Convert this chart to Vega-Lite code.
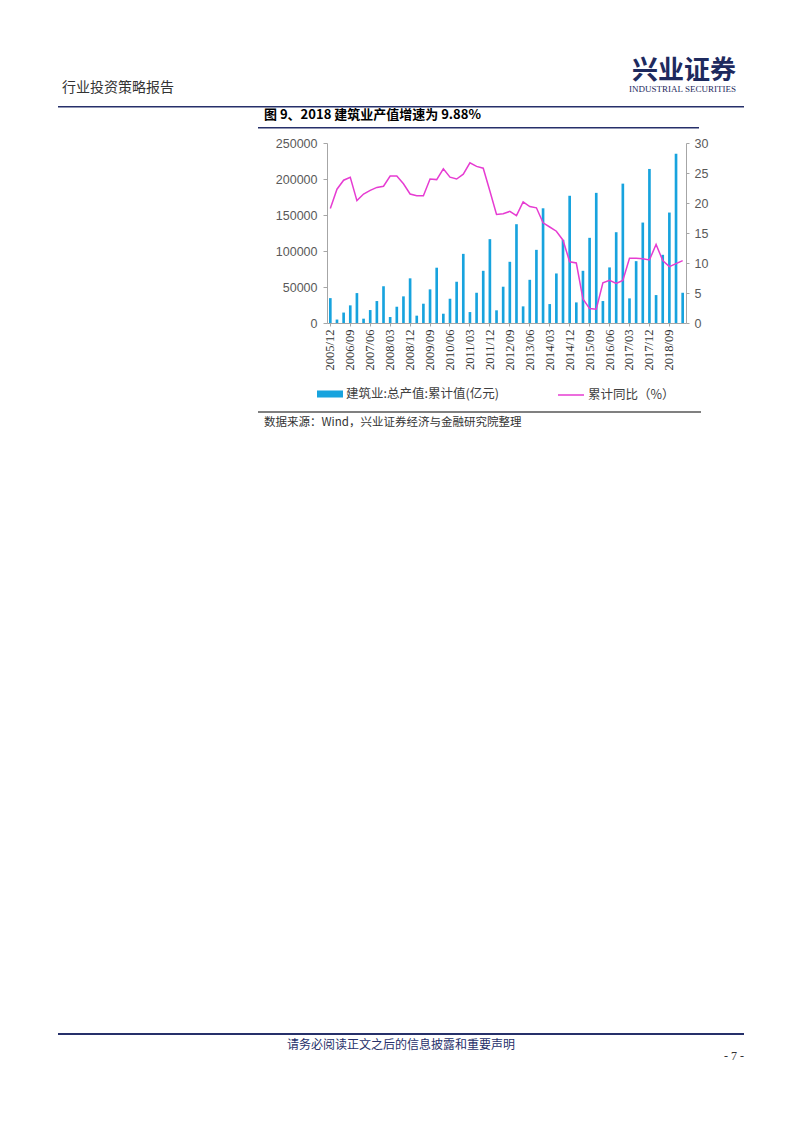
{
  "$schema": "https://vega.github.io/schema/vega-lite/v6.json",
  "background": "white",
  "padding": 0,
  "autosize": {"type": "pad"},
  "config": {
    "view": {"stroke": null},
    "concat": {"spacing": 0},
    "font": "Noto Sans CJK SC"
  },
  "datasets": {
    "q": [
      {"d":"2005/12","v":34552,"g":19.1},
      {"d":"2006/03","v":4800,"g":22.3},
      {"d":"2006/06","v":14500,"g":23.8},
      {"d":"2006/09","v":24500,"g":24.3},
      {"d":"2006/12","v":41557,"g":20.4},
      {"d":"2007/03","v":6000,"g":21.5},
      {"d":"2007/06","v":18000,"g":22.1},
      {"d":"2007/09","v":30500,"g":22.6},
      {"d":"2007/12","v":51044,"g":22.8},
      {"d":"2008/03","v":8300,"g":24.5},
      {"d":"2008/06","v":22600,"g":24.5},
      {"d":"2008/09","v":37000,"g":23.2},
      {"d":"2008/12","v":62036,"g":21.5},
      {"d":"2009/03","v":10200,"g":21.2},
      {"d":"2009/06","v":26800,"g":21.2},
      {"d":"2009/09","v":46700,"g":24.0},
      {"d":"2009/12","v":76808,"g":23.9},
      {"d":"2010/03","v":12900,"g":25.7},
      {"d":"2010/06","v":33700,"g":24.3},
      {"d":"2010/09","v":57300,"g":24.0},
      {"d":"2010/12","v":96031,"g":24.8},
      {"d":"2011/03","v":15200,"g":26.7},
      {"d":"2011/06","v":42000,"g":26.1},
      {"d":"2011/09","v":72500,"g":25.8},
      {"d":"2011/12","v":116463,"g":22.0},
      {"d":"2012/03","v":17600,"g":18.1},
      {"d":"2012/06","v":50400,"g":18.2},
      {"d":"2012/09","v":85000,"g":18.6},
      {"d":"2012/12","v":137218,"g":17.9},
      {"d":"2013/03","v":23100,"g":20.2},
      {"d":"2013/06","v":60000,"g":19.4},
      {"d":"2013/09","v":101600,"g":19.2},
      {"d":"2013/12","v":159313,"g":16.7},
      {"d":"2014/03","v":26300,"g":16.0},
      {"d":"2014/06","v":68800,"g":15.3},
      {"d":"2014/09","v":115500,"g":13.8},
      {"d":"2014/12","v":176713,"g":10.2},
      {"d":"2015/03","v":28600,"g":10.0},
      {"d":"2015/06","v":72500,"g":4.0},
      {"d":"2015/09","v":118300,"g":2.4},
      {"d":"2015/12","v":180757,"g":2.3},
      {"d":"2016/03","v":30500,"g":6.7},
      {"d":"2016/06","v":77200,"g":7.1},
      {"d":"2016/09","v":126100,"g":6.6},
      {"d":"2016/12","v":193567,"g":7.1},
      {"d":"2017/03","v":34200,"g":10.8},
      {"d":"2017/06","v":85900,"g":10.8},
      {"d":"2017/09","v":139500,"g":10.7},
      {"d":"2017/12","v":213954,"g":10.5},
      {"d":"2018/03","v":38800,"g":13.1},
      {"d":"2018/06","v":94700,"g":10.4},
      {"d":"2018/09","v":153400,"g":9.4},
      {"d":"2018/12","v":235086,"g":9.9},
      {"d":"2019/03","v":42000,"g":10.4}
    ],
    "none": []
  },
  "bounds": "flush",
  "spacing": 0,
  "resolve": {"scale": {"fill": "independent", "stroke": "independent"}},
  "vconcat": [
    {"data": {"name": "none"}, "mark": "point", "width": 58, "height": 106},
    {
      "hconcat": [
        {"data": {"name": "none"}, "mark": "point", "width": 58, "height": 1.5},
        {"data": {"name": "none"}, "mark": "point", "width": 520, "height": 1.5,
         "view": {"fill": "#26306a", "stroke": null},
         "title": {"text": "行业投资策略报告", "anchor": "start", "orient": "top", "offset": 11, "dx": 4,
                   "font": "Noto Sans CJK SC", "fontSize": 14, "fontWeight": "normal", "color": "#333333"}},
        {"data": {"name": "none"}, "mark": "point", "width": 166, "height": 1.5,
         "view": {"fill": "#26306a", "stroke": null},
         "title": {"text": "兴业证券", "subtitle": "INDUSTRIAL SECURITIES", "anchor": "end", "orient": "top", "offset": 12, "dx": -8,
                   "font": "Noto Sans CJK SC", "fontSize": 26, "fontWeight": "bold", "color": "#1e2a5e",
                   "subtitleFont": "Liberation Serif", "subtitleFontSize": 9, "subtitleColor": "#1e2a5e", "subtitlePadding": 1}}
      ],
      "bounds": "flush", "spacing": 0
    },
    {"data": {"name": "none"}, "mark": "point", "width": 58, "height": 21},
    {
      "hconcat": [
        {"data": {"name": "none"}, "mark": "point", "width": 58, "height": 1.5},
        {"data": {"name": "none"}, "mark": "point", "width": 200, "height": 1.5},
        {"data": {"name": "none"}, "mark": "point", "width": 441, "height": 1.5,
         "view": {"fill": "#26306a", "stroke": null},
         "title": {"text": "图 9、2018 建筑业产值增速为 9.88%", "anchor": "start", "orient": "top", "offset": 5, "dx": 6,
                   "font": "Noto Sans CJK SC", "fontSize": 13, "fontWeight": "bold", "color": "#000000"}},
        {"data": {"name": "none"}, "mark": "point", "width": 45, "height": 1.5}
      ],
      "bounds": "flush", "spacing": 0
    },
    {"data": {"name": "none"}, "mark": "point", "width": 58, "height": 15.5},
    {
      "hconcat": [
        {"data": {"name": "none"}, "mark": "point", "width": 327, "height": 180},
        {
          "width": 359,
          "height": 180,
          "data": {"name": "q"},
          "encoding": {
            "x": {
              "field": "d", "type": "ordinal", "sort": null,
              "scale": {"paddingInner": 0.6, "paddingOuter": 0.3},
              "axis": {
                "title": null,
                "values": ["2005/12","2006/09","2007/06","2008/03","2008/12","2009/09","2010/06","2011/03","2011/12","2012/09","2013/06","2014/03","2014/12","2015/09","2016/06","2017/03","2017/12","2018/09"],
                "labelAngle": -90, "labelFont": "Liberation Serif", "labelFontSize": 12.5, "labelColor": "#333333",
                "labelPadding": 3, "labelOverlap": false,
                "domainColor": "#a6a6a6", "tickColor": "#a6a6a6", "tickSize": 3
              }
            }
          },
          "layer": [
            {
              "mark": {"type": "bar"},
              "encoding": {
                "y": {
                  "field": "v", "type": "quantitative",
                  "scale": {"domain": [0, 250000], "nice": false},
                  "axis": {
                    "title": null, "values": [0, 50000, 100000, 150000, 200000, 250000], "format": "d",
                    "grid": false, "labelFont": "Liberation Sans", "labelFontSize": 12.5, "labelColor": "#595959",
                    "domainColor": "#a6a6a6", "tickColor": "#a6a6a6", "tickSize": 4, "labelPadding": 6
                  }
                },
                "fill": {
                  "datum": "建筑业:总产值:累计值(亿元)",
                  "scale": {"range": ["#17a3de"]},
                  "legend": {
                    "orient": "none", "legendX": -10, "legendY": 238, "title": null,
                    "symbolType": "M-1,-0.27H1V0.27H-1Z", "symbolSize": 676, "symbolStrokeWidth": 0,
                    "labelFont": "Noto Sans CJK SC", "labelFontSize": 12.5, "labelColor": "#404040", "labelOffset": 3
                  }
                }
              }
            },
            {
              "mark": {"type": "line", "strokeWidth": 1.5},
              "encoding": {
                "y": {
                  "field": "g", "type": "quantitative",
                  "scale": {"domain": [0, 30], "nice": false},
                  "axis": {
                    "orient": "right", "title": null, "values": [0, 5, 10, 15, 20, 25, 30],
                    "grid": false, "labelFont": "Liberation Sans", "labelFontSize": 12.5, "labelColor": "#595959",
                    "domainColor": "#a6a6a6", "tickColor": "#a6a6a6", "tickSize": 3, "labelPadding": 5
                  }
                },
                "stroke": {
                  "datum": "累计同比（%）",
                  "scale": {"range": ["#e63cd2"]},
                  "legend": {
                    "orient": "none", "legendX": 230, "legendY": 238, "title": null,
                    "symbolType": "stroke", "symbolSize": 676, "symbolStrokeWidth": 1.5,
                    "labelFont": "Noto Sans CJK SC", "labelFontSize": 12.5, "labelColor": "#404040", "labelOffset": 3
                  }
                }
              }
            }
          ],
          "resolve": {"scale": {"y": "independent", "fill": "independent", "stroke": "independent"}}
        }
      ],
      "bounds": "flush", "spacing": 0,
      "resolve": {"scale": {"fill": "independent", "stroke": "independent"}}
    },
    {"data": {"name": "none"}, "mark": "point", "width": 58, "height": 267.5},
    {
      "hconcat": [
        {"data": {"name": "none"}, "mark": "point", "width": 58, "height": 2},
        {"data": {"name": "none"}, "mark": "point", "width": 200, "height": 2},
        {"data": {"name": "none"}, "mark": "point", "width": 443, "height": 2,
         "view": {"fill": "#808080", "stroke": null},
         "title": {"text": "数据来源：Wind，兴业证券经济与金融研究院整理", "anchor": "start", "orient": "bottom", "offset": 4, "dx": 6,
                   "font": "Noto Sans CJK SC", "fontSize": 11.5, "fontWeight": "normal", "color": "#333333"}},
        {"data": {"name": "none"}, "mark": "point", "width": 43, "height": 2}
      ],
      "bounds": "flush", "spacing": 0
    },
    {"data": {"name": "none"}, "mark": "point", "width": 58, "height": 622},
    {
      "hconcat": [
        {"data": {"name": "none"}, "mark": "point", "width": 58, "height": 2},
        {"data": {"name": "none"}, "mark": "point", "width": 686, "height": 2,
         "view": {"fill": "#26306a", "stroke": null},
         "title": {"text": "请务必阅读正文之后的信息披露和重要声明", "anchor": "middle", "orient": "bottom", "offset": 5,
                   "font": "Noto Sans CJK SC", "fontSize": 12, "fontWeight": "normal", "color": "#26306a"}}
      ],
      "bounds": "flush", "spacing": 0
    },
    {"data": {"name": "none"}, "mark": "point", "width": 58, "height": 32},
    {
      "hconcat": [
        {"data": {"name": "none"}, "mark": "point", "width": 700, "height": 1},
        {"data": {"name": "none"}, "mark": "point", "width": 44, "height": 1,
         "title": {"text": "- 7 -", "anchor": "end", "orient": "top", "offset": 2,
                   "font": "Liberation Serif", "fontSize": 12, "fontWeight": "normal", "color": "#333333"}}
      ],
      "bounds": "flush", "spacing": 0
    },
    {"data": {"name": "none"}, "mark": "point", "width": 802, "height": 69}
  ]
}
